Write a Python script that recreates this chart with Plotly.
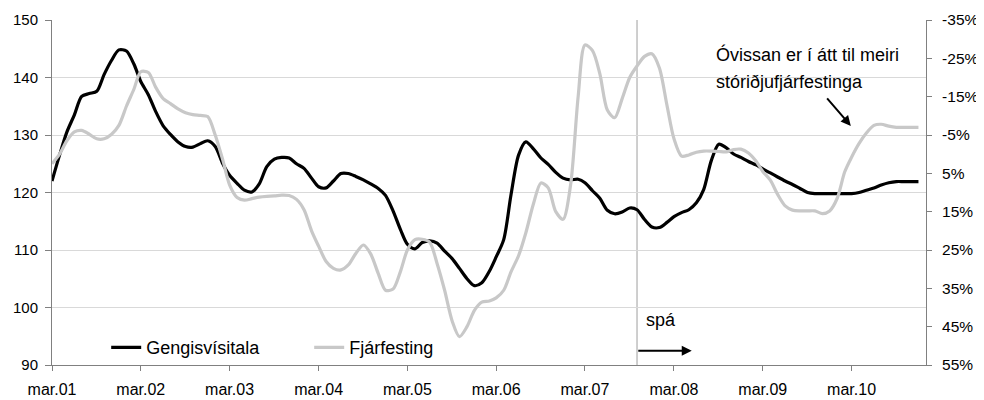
import pandas as pd
import plotly.graph_objects as go

# Monthly data, mar.01 - des.10
dates = pd.date_range("2001-03-01", periods=118, freq="MS")

gengisvisitala = [
    122.0, 126.5, 130.5, 133.5, 136.7, 137.2, 137.6, 140.5, 143.0, 144.8,
    144.6, 142.3, 139.3, 137.0, 134.1, 131.6, 130.1, 128.8, 128.0, 127.9,
    128.5, 129.0, 128.0, 125.0, 123.0, 121.6, 120.4, 120.1, 121.5, 124.5,
    125.8, 126.1, 126.0, 125.0, 124.2, 122.5, 121.0, 120.8, 122.0, 123.3,
    123.3, 122.8, 122.2, 121.5, 120.7, 119.5, 116.8, 113.5, 111.0, 110.2,
    111.3, 111.6, 111.2, 109.8, 108.5, 106.8, 105.0, 103.8, 104.3, 106.3,
    108.8, 111.8, 119.6, 126.5, 128.8, 127.6, 126.0, 124.9, 123.5, 122.5,
    122.2, 122.3, 121.7, 120.3, 119.0, 116.9, 116.3, 116.6, 117.3, 117.0,
    115.3, 114.0, 113.9, 114.8, 115.8, 116.5, 117.0, 118.2, 120.5, 125.5,
    128.4, 127.8, 126.7, 126.1, 125.4, 124.8, 124.1, 123.4, 122.7, 122.0,
    121.4, 120.7, 120.0, 119.8, 119.8, 119.8, 119.8, 119.8, 119.8, 120.0,
    120.4, 120.8, 121.3, 121.7, 121.9, 121.9, 121.9, 121.9,
]

fjarfesting = [
    2.5, 0.0, -3.5, -5.8, -6.2, -5.2, -4.0, -4.0, -5.2, -7.5,
    -12.5, -17.0, -21.5, -21.3, -17.5, -14.5, -13.2, -11.8, -10.8, -10.3,
    -10.1, -9.8, -5.0, 1.5, 8.0, 11.3, 12.0, 11.6, 11.2, 11.0,
    10.9, 10.7, 10.8, 11.8, 14.5, 20.0, 24.0, 28.0, 29.8, 30.2,
    28.9, 25.9, 23.7, 26.0, 31.1, 35.5, 35.2, 30.5, 25.0, 22.3,
    22.2, 23.0, 28.5, 35.5, 43.5, 47.6, 45.0, 40.8, 38.6, 38.3,
    37.5, 35.5, 30.7, 26.5, 20.5, 13.0, 7.5, 8.8, 15.0, 17.0,
    8.0, -15.0, -28.5, -27.0, -21.0, -11.5, -9.5, -14.5, -20.0, -23.0,
    -25.5, -26.2, -22.5, -12.8, -4.0, 0.5, 0.2, -0.5, -0.8, -0.8,
    -0.7, -0.6, -1.2, -1.3, -0.3, 1.8, 4.5, 6.8, 10.5, 13.5,
    14.6, 14.8, 14.8, 14.8, 15.5, 14.8, 11.5, 4.6, 0.8, -2.8,
    -5.5, -7.5, -7.8, -7.3, -7.0, -7.0, -7.0, -7.0,
]

x_tick_dates = [f"{y}-03-01" for y in range(2001, 2011)]
x_tick_text = [f"mar.{y % 100:02d}" for y in range(2001, 2011)]
left_ticks = [90, 100, 110, 120, 130, 140, 150]
right_ticks = [-35, -25, -15, -5, 5, 15, 25, 35, 45, 55]
right_tick_text = [f"{v}%" for v in right_ticks]
forecast_start = "2007-10-01"

FONT = "Liberation Sans, Arial, sans-serif"

fig = go.Figure()
fig.add_trace(go.Scatter(
    x=dates, y=gengisvisitala, name="Gengisvísitala", mode="lines",
    line=dict(color="#000000", width=3.2, shape="spline", smoothing=0.8),
    yaxis="y",
))
fig.add_trace(go.Scatter(
    x=dates, y=fjarfesting, name="Fjárfesting", mode="lines",
    line=dict(color="#c8c8c8", width=3.2, shape="spline", smoothing=0.8),
    yaxis="y2",
))

# the page body adds an 8px offset, so the figure is 8px smaller
fig.update_layout(
    width=976, height=392,
    margin=dict(l=44, r=58, t=12, b=35),
    paper_bgcolor="white", plot_bgcolor="white",
    font=dict(family=FONT, size=15, color="#000000"),
    showlegend=True,
    legend=dict(
        orientation="h", x=0.062, y=0.05, xanchor="left", yanchor="middle",
        bgcolor="rgba(0,0,0,0)", font=dict(size=18),
        entrywidth=158, entrywidthmode="pixels", tracegroupgap=0,
    ),
    xaxis=dict(
        type="date", range=["2001-03-01", "2011-01-01"],
        tickvals=x_tick_dates, ticktext=x_tick_text,
        showgrid=False, showline=True, linecolor="#808080", linewidth=1,
        ticks="outside", ticklen=5, tickcolor="#808080",
        tickfont=dict(size=16), zeroline=False, automargin=False,
        ticklabelstandoff=5,
    ),
    yaxis=dict(
        range=[90, 150], tickvals=left_ticks,
        showgrid=True, gridcolor="#d9d9d9", gridwidth=1,
        showline=True, linecolor="#808080", linewidth=1,
        ticks="outside", ticklen=6, tickcolor="#808080",
        tickfont=dict(size=15), zeroline=False, automargin=False,
        ticklabelstandoff=4,
    ),
    yaxis2=dict(
        range=[55, -35], overlaying="y", side="right",
        tickvals=right_ticks, ticktext=right_tick_text,
        showgrid=False, showline=True, linecolor="#808080", linewidth=1,
        ticks="outside", ticklen=5, tickcolor="#808080",
        tickfont=dict(size=15.5), zeroline=False, automargin=False,
        ticklabelstandoff=7,
    ),
    shapes=[dict(
        type="line", xref="x", yref="paper",
        x0=forecast_start, x1=forecast_start, y0=0, y1=1,
        line=dict(color="#bfbfbf", width=1.5), layer="below",
    )],
    annotations=[
        dict(
            xref="paper", yref="paper", x=0.677, y=0.13,
            text="spá", showarrow=False, xanchor="left", yanchor="middle",
            font=dict(size=18),
        ),
        dict(
            xref="paper", yref="paper", x=0.732, y=0.041,
            ax=-55, ay=0, text="", showarrow=True,
            arrowhead=2, arrowsize=1, arrowwidth=2, arrowcolor="#000000",
        ),
        dict(
            xref="paper", yref="paper", x=0.757, y=0.899,
            text="Óvissan er í átt til meiri",
            showarrow=False, xanchor="left", yanchor="middle", align="left",
            font=dict(size=18),
        ),
        dict(
            xref="paper", yref="paper", x=0.757, y=0.82,
            text="stóriðjufjárfestinga",
            showarrow=False, xanchor="left", yanchor="middle", align="left",
            font=dict(size=18),
        ),
        dict(
            xref="paper", yref="paper", x=0.914, y=0.693,
            ax=-25, ay=-29, text="", showarrow=True,
            arrowhead=2, arrowsize=1, arrowwidth=2, arrowcolor="#000000",
        ),
    ],
)

fig.write_html("out.html")
